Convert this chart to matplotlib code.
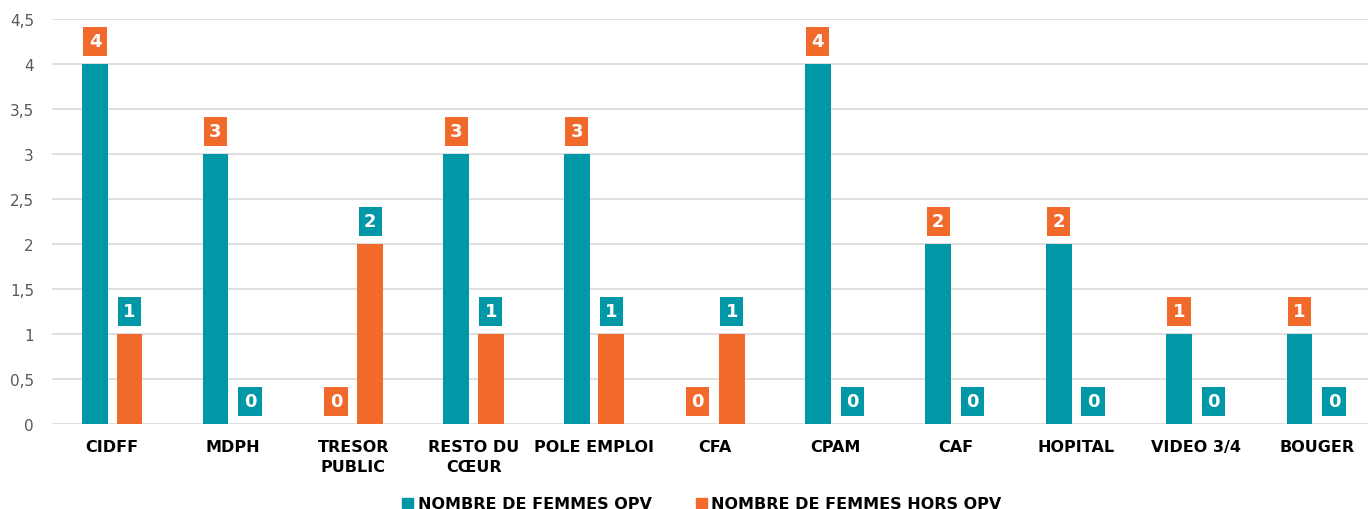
import matplotlib.pyplot as plt
from matplotlib.patches import Patch
import numpy as np

# data
categories = ['CIDFF', 'MDPH', 'TRESOR\nPUBLIC', 'RESTO DU\nCŒUR', 'POLE EMPLOI', 'CFA',
              'CPAM', 'CAF', 'HOPITAL', 'VIDEO 3/4', 'BOUGER']
femmes_opv = [4, 3, 0, 3, 3, 0, 4, 2, 2, 1, 1]
femmes_hors_opv = [1, 0, 2, 1, 1, 1, 0, 0, 0, 0, 0]
yticks = [0, 0.5, 1, 1.5, 2, 2.5, 3, 3.5, 4, 4.5]

teal = '#0097a7'
orange = '#f26a2b'

plt.rcParams['font.family'] = ['DejaVu Sans']

fig = plt.figure(figsize=(13.68, 5.10), dpi=100)
ax = fig.add_axes([52 / 1368, 1 - 425 / 510, (1377 - 52) / 1368, 405 / 510])

x = np.arange(len(categories))
w = 0.215
off = 0.143
ax.bar(x - off, femmes_opv, w, color=teal, zorder=3)
ax.bar(x + off, femmes_hors_opv, w, color=orange, zorder=3)

# value labels: boxes take the colour of the other series
for xi, v in zip(x, femmes_opv):
    ax.annotate(str(v), (xi - off, v), xytext=(0, 16.5), textcoords='offset points',
                ha='center', va='center', color='white', fontsize=13, fontweight='bold',
                bbox=dict(boxstyle='square,pad=0.3', fc=orange, ec='none'), zorder=4)
for xi, v in zip(x, femmes_hors_opv):
    ax.annotate(str(v), (xi + off, v), xytext=(0, 16.5), textcoords='offset points',
                ha='center', va='center', color='white', fontsize=13, fontweight='bold',
                bbox=dict(boxstyle='square,pad=0.3', fc=teal, ec='none'), zorder=4)

ax.set_xlim(-0.5, len(categories) - 0.5)
ax.set_ylim(0, 4.5)
ax.set_yticks(yticks)
ax.set_yticklabels([('%g' % t).replace('.', ',') for t in yticks], color='#595959', fontsize=11)
ax.set_xticks(x)
ax.set_xticklabels(categories, fontsize=11.5, fontweight='bold', color='black', linespacing=1.4)
ax.tick_params(axis='both', length=0)
ax.tick_params(axis='y', pad=13)
ax.tick_params(axis='x', pad=11)
ax.yaxis.grid(True, color='#d9d9d9', linewidth=1.2, zorder=0)
for s in ax.spines.values():
    s.set_visible(False)

handles = [Patch(color=teal, label='NOMBRE DE FEMMES OPV'),
           Patch(color=orange, label='NOMBRE DE FEMMES HORS OPV')]
fig.legend(handles=handles, loc='center', bbox_to_anchor=(702 / 1368, 5 / 510), ncol=2,
           frameon=False, handlelength=0.65, handleheight=0.65, handletextpad=0.3,
           columnspacing=2.8, prop={'weight': 'bold', 'size': 11.5})

fig.savefig('out.png', dpi=100)
